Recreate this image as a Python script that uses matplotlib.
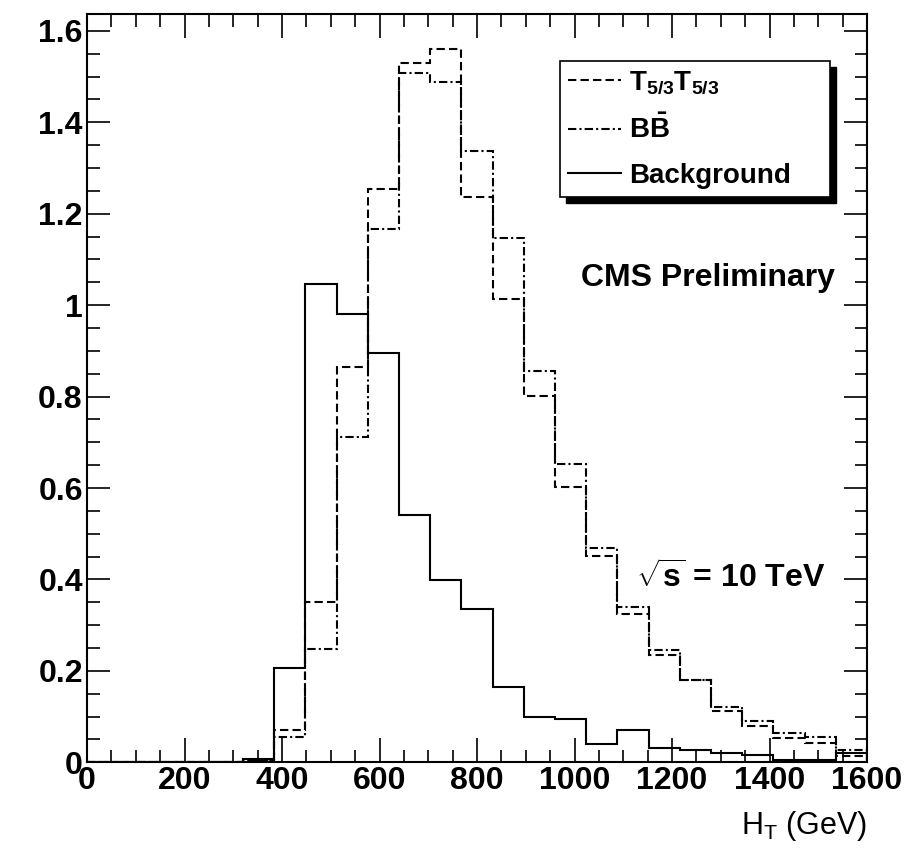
import numpy as np
import matplotlib.pyplot as plt
from matplotlib.patches import Rectangle
from matplotlib.ticker import MultipleLocator, FuncFormatter

plt.rcParams['font.family'] = ['Liberation Sans', 'DejaVu Sans']
plt.rcParams['mathtext.fontset'] = 'custom'
plt.rcParams['mathtext.rm'] = 'Liberation Sans'
plt.rcParams['mathtext.bf'] = 'Liberation Sans:bold'
plt.rcParams['mathtext.it'] = 'Liberation Sans:italic'

# HT histograms, 25 bins of 64 GeV between 0 and 1600 GeV
ht_edges = np.linspace(0, 1600, 26)

background = [0, 0, 0, 0, 0, 0.008, 0.207, 1.046, 0.980, 0.895,
              0.542, 0.398, 0.335, 0.165, 0.099, 0.094, 0.041, 0.070,
              0.032, 0.026, 0.021, 0.016, 0.006, 0.005, 0.020]

t53_pair = [0, 0, 0, 0, 0, 0.004, 0.070, 0.351, 0.865, 1.255,
            1.529, 1.561, 1.237, 1.014, 0.802, 0.603, 0.452, 0.325,
            0.234, 0.179, 0.112, 0.080, 0.054, 0.043, 0.014]

bb_pair = [0, 0, 0, 0, 0, 0.003, 0.056, 0.248, 0.712, 1.166,
           1.507, 1.488, 1.338, 1.147, 0.855, 0.653, 0.468, 0.340,
           0.245, 0.179, 0.120, 0.091, 0.064, 0.056, 0.027]

labels = [r'$\mathbf{T_{5/3}T_{5/3}}$', r'$\mathbf{B\bar{B}}$', 'Background']

fig = plt.figure(figsize=(9.14, 8.65), dpi=100)
ax = fig.add_axes([0.0952, 0.1187, 0.8534, 0.8651])

lw = 1.5
ax.stairs(t53_pair, ht_edges, color='black', linewidth=lw,
          linestyle=(0, (4, 2)), label=labels[0])
ax.stairs(bb_pair, ht_edges, color='black', linewidth=lw,
          linestyle=(0, (4, 1.5, 1, 1.5)), label=labels[1])
ax.stairs(background, ht_edges, color='black', linewidth=lw,
          label=labels[2])

ax.set_xlim(0, 1600)
ax.set_ylim(0, 1.637)

ax.xaxis.set_major_locator(MultipleLocator(200))
ax.xaxis.set_minor_locator(MultipleLocator(50))
ax.yaxis.set_major_locator(MultipleLocator(0.2))
ax.yaxis.set_minor_locator(MultipleLocator(0.05))
ax.yaxis.set_major_formatter(FuncFormatter(lambda v, p: '%g' % round(v, 2)))
ax.xaxis.set_major_formatter(FuncFormatter(lambda v, p: '%d' % v))

ax.tick_params(which='both', direction='in', top=True, right=True, width=1.2)
ax.tick_params(axis='x', which='major', length=17.3, pad=3)
ax.tick_params(axis='y', which='major', length=16.5, pad=3)
ax.tick_params(which='minor', length=9.0)
for lab in ax.get_xticklabels() + ax.get_yticklabels():
    lab.set_fontsize(23)
    lab.set_fontweight('bold')
for s in ax.spines.values():
    s.set_linewidth(1.5)

fig.text(0.949, 0.045, r'H$_\mathrm{T}$ (GeV)', fontsize=22, ha='right',
         va='center')

# legend box with ROOT-like drop shadow
bx, by, bw, bh = 0.606, 0.7555, 0.3466, 0.1815
ax.add_patch(Rectangle((bx + 0.0077, by - 0.008), bw, bh, transform=ax.transAxes,
                       facecolor='black', edgecolor='black', zorder=4))
ax.add_patch(Rectangle((bx, by), bw, bh, transform=ax.transAxes,
                       facecolor='white', edgecolor='black', linewidth=1.2, zorder=5))
leg = ax.legend(loc='upper left', bbox_to_anchor=(bx, by + bh), frameon=False,
                handlelength=1.9, handletextpad=0.3, labelspacing=0.68,
                borderpad=0.3, borderaxespad=0,
                prop={'size': 20, 'weight': 'bold'})
leg.set_zorder(6)

ax.text(0.959, 0.647, 'CMS Preliminary', transform=ax.transAxes, ha='right',
        va='center', fontsize=23, fontweight='bold')
ax.text(0.947, 0.246, r'$\sqrt{\mathbf{s}}$ = 10 TeV',
        transform=ax.transAxes, ha='right', va='center', fontsize=23,
        fontweight='bold')

fig.savefig('out.png', dpi=100)
